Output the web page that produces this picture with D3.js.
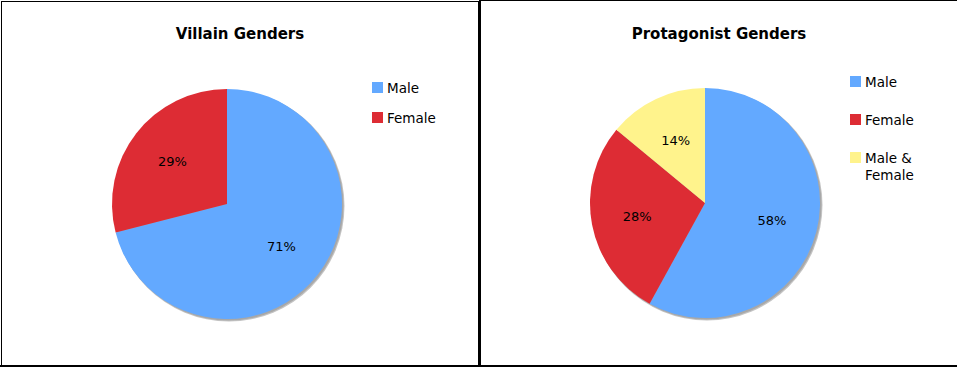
<!DOCTYPE html>
<html>
<head>
<meta charset="utf-8">
<script src="https://cdn.jsdelivr.net/npm/d3@7"></script>
<style>
    html, body { margin: 0; padding: 0; background: #fff; }
    svg { display: block; }
</style>
</head>
<body>
<div id="chart"></div>
<script>
// data
const villainCategories = ["Male", "Female"];
const villainValues = [71, 29];

const protagonistCategories = ["Male", "Female", "Male & Female"];
const protagonistValues = [58, 28, 14];

const sliceColors = ["#63a9ff", "#dd2c34", "#fff38c"];

const width = 957;
const height = 368;

const svg = d3.select("#chart")
    .append("svg")
    .attr("width", width)
    .attr("height", height);

// frame of the two panels
svg.append("rect")
    .attr("x", 1.5).attr("y", 1.5)
    .attr("width", 477).attr("height", 364)
    .attr("fill", "none").attr("stroke", "#000").attr("stroke-width", 1);
svg.append("line")
    .attr("x1", 480).attr("x2", 480).attr("y1", 0).attr("y2", 367)
    .attr("stroke", "#000").attr("stroke-width", 2);
svg.append("line")
    .attr("x1", 480).attr("x2", width).attr("y1", 0.5).attr("y2", 0.5)
    .attr("stroke", "#000").attr("stroke-width", 1);
svg.append("line")
    .attr("x1", 0).attr("x2", width).attr("y1", 366).attr("y2", 366)
    .attr("stroke", "#000").attr("stroke-width", 2);

function drawPie(config) {
    const g = svg.append("g").attr("transform", `translate(${config.x},0)`);

    g.append("text")
        .attr("x", config.titleX)
        .attr("y", 39)
        .attr("text-anchor", "middle")
        .style("font-family", "DejaVu Sans, Verdana, sans-serif")
        .style("font-weight", "bold")
        .style("font-size", "15px")
        .text(config.title);

    const data = config.values.map((v, i) => ({ label: config.categories[i], value: v, color: sliceColors[i] }));
    const pie = d3.pie().sort(null).value(d => d.value);
    const arcs = pie(data);

    const radius = 115;
    const arc = d3.arc().innerRadius(0).outerRadius(radius);
    const labelArc = d3.arc().innerRadius(radius * 0.6).outerRadius(radius * 0.6);

    const pieG = g.append("g").attr("transform", `translate(${config.cx},${config.cy})`);

    // soft shadow below the pie
    pieG.append("circle")
        .attr("cx", 2).attr("cy", 2).attr("r", radius + 0.5)
        .attr("fill", "#c4c4c4");
    pieG.append("circle")
        .attr("cx", 1.5).attr("cy", 1.5).attr("r", radius)
        .attr("fill", "#a8a8a8");

    pieG.selectAll("path.slice")
        .data(arcs)
        .enter()
        .append("path")
        .attr("class", "slice")
        .attr("d", arc)
        .attr("fill", d => d.data.color);

    pieG.selectAll("text.pct")
        .data(arcs)
        .enter()
        .append("text")
        .attr("class", "pct")
        .attr("transform", d => `translate(${labelArc.centroid(d)})`)
        .attr("text-anchor", "middle")
        .attr("dy", "0.36em")
        .style("font-family", "DejaVu Sans, Verdana, sans-serif")
        .style("font-size", "13px")
        .text(d => d.data.value + "%");

    // legend
    const legend = g.append("g").attr("transform", `translate(${config.legendX},${config.legendY})`);
    data.forEach((d, i) => {
        const item = legend.append("g").attr("transform", `translate(0,${i * config.legendStep})`);
        item.append("rect")
            .attr("x", 0).attr("y", 0)
            .attr("width", 11).attr("height", 11)
            .attr("fill", d.color);
        const txt = item.append("text")
            .attr("x", 15)
            .attr("y", 10.5)
            .style("font-family", "DejaVu Sans, Verdana, sans-serif")
            .style("font-size", "13.5px");
        // simple word wrap
        const words = d.label.split(" ");
        let line = [];
        let tspan = txt.append("tspan").attr("x", 15).attr("dy", 0);
        words.forEach(w => {
            line.push(w);
            tspan.text(line.join(" "));
            if (tspan.node().getComputedTextLength() > 60 && line.length > 1) {
                line.pop();
                tspan.text(line.join(" "));
                line = [w];
                tspan = txt.append("tspan").attr("x", 15).attr("dy", 17).text(w);
            }
        });
    });
}

drawPie({
    x: 0,
    title: "Villain Genders",
    titleX: 240,
    categories: villainCategories,
    values: villainValues,
    cx: 227, cy: 204,
    legendX: 372, legendY: 82, legendStep: 30
});

drawPie({
    x: 480,
    title: "Protagonist Genders",
    titleX: 239,
    categories: protagonistCategories,
    values: protagonistValues,
    cx: 225, cy: 203,
    legendX: 370, legendY: 76, legendStep: 38
});
</script>
</body>
</html>
